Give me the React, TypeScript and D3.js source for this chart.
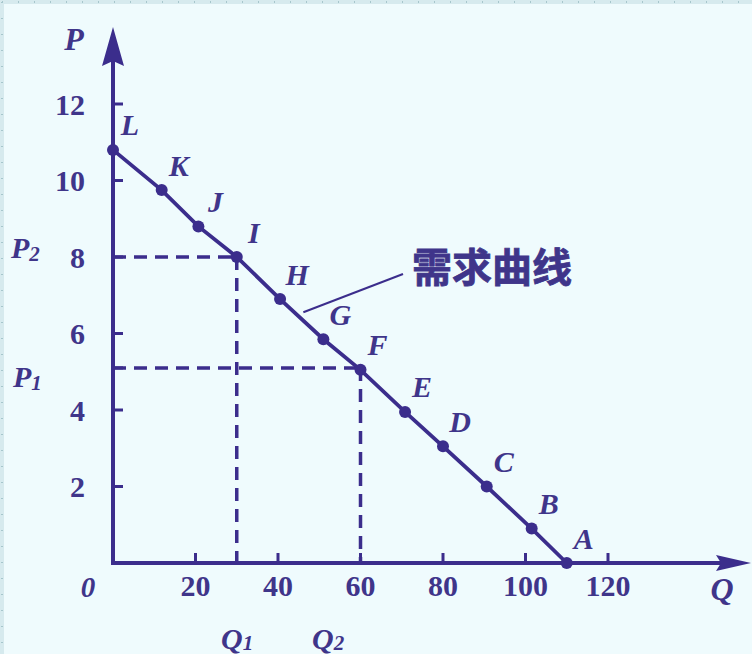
import React from 'react';
import * as d3 from 'd3';

// points on the demand curve
const pointNames = ['A', 'B', 'C', 'D', 'E', 'F', 'G', 'H', 'I', 'J', 'K', 'L'];
const pointQ = [110, 101.5, 90.6, 80, 70.8, 60, 51, 40.5, 30, 20.7, 11.8, 0];
const pointP = [0, 0.9, 2, 3.05, 3.95, 5.05, 5.85, 6.9, 8, 8.8, 9.75, 10.8];

const xTicks = [20, 40, 60, 80, 100, 120];
const yTicks = [2, 4, 6, 8, 10, 12];

// the two price/quantity guides
const P1 = 5.1;
const P2 = 8;
const Q1 = 30;
const Q2 = 60;

const W = 752;
const H = 654;
const ink = '#3b2d8c';
const txt = '#3f358a';
const serif = '"Liberation Serif", "Times New Roman", serif';

export default function App() {
  const x = d3.scaleLinear().domain([0, 120]).range([113, 608]);
  const y = d3.scaleLinear().domain([0, 12]).range([563, 104]);

  const pts = pointQ.map((q, i) => ({ q, p: pointP[i], name: pointNames[i] }));
  const line = d3.line<{ q: number; p: number }>().x(d => x(d.q)).y(d => y(d.p));

  const x0 = x(0);
  const y0 = y(0);
  const dots = d3.range(2, W, 16);
  const dotsV = d3.range(2, H, 16);

  return (
    <svg width={W} height={H} style={{ position: 'absolute', left: 0, top: 0 }}>
      {/* page background with the dotted top/left border */}
      <rect x={0} y={0} width={W} height={H} fill="#effbfd" />
      <rect x={0} y={0} width={W} height={4} fill="#d6eaee" />
      <rect x={0} y={0} width={4} height={H} fill="#d6eaee" />
      {dots.map(d => <rect key={'t' + d} x={d} y={1} width={1} height={2} fill="#a6c6cc" />)}
      {dotsV.map(d => <rect key={'l' + d} x={1} y={d} width={2} height={1} fill="#a6c6cc" />)}

      {/* dashed guides */}
      <g stroke={ink} strokeWidth={3.5} strokeDasharray="13,8" fill="none">
        <line x1={x0} y1={y(P2)} x2={x(Q1)} y2={y(P2)} />
        <line x1={x(Q1)} y1={y(P2)} x2={x(Q1)} y2={y0} />
        <line x1={x0} y1={y(P1)} x2={x(Q2)} y2={y(P1)} />
        <line x1={x(Q2)} y1={y(P1)} x2={x(Q2)} y2={y0} />
      </g>

      {/* axes */}
      <g stroke={ink} strokeWidth={4} fill="none">
        <line x1={x0} y1={y0} x2={x0} y2={50} />
        <line x1={x0 - 2} y1={y0} x2={730} y2={y0} />
        {yTicks.concat([P1]).map(t => (
          <line key={'yt' + t} x1={x0} y1={y(t)} x2={x0 + 10} y2={y(t)} strokeWidth={3} />
        ))}
        {xTicks.map(t => (
          <line key={'xt' + t} x1={x(t)} y1={y0} x2={x(t)} y2={y0 - 10} strokeWidth={3} />
        ))}
      </g>
      <path d={`M${x0},27 L${x0 - 11},66 L${x0},61 L${x0 + 11},66 Z`} fill={ink} />
      <path d={`M751,${y0} L716,${y0 - 8} L721,${y0} L716,${y0 + 8} Z`} fill={ink} />

      {/* demand curve */}
      <path d={line(pts) || ''} stroke={ink} strokeWidth={3.8} fill="none" />
      {pts.map(d => (
        <circle key={d.name} cx={x(d.q)} cy={y(d.p)} r={6} fill={ink} />
      ))}

      {/* tick labels */}
      <g fill={txt} fontFamily={serif} fontWeight="bold" fontSize={30}>
        {yTicks.map(t => (
          <text key={'yl' + t} x={85} y={y(t)} textAnchor="end" dominantBaseline="central">{t}</text>
        ))}
        {xTicks.map(t => (
          <text key={'xl' + t} x={x(t)} y={596} textAnchor="middle">{t}</text>
        ))}
      </g>

      {/* axis names and point letters */}
      <g fill={txt} fontFamily={serif} fontWeight="bold" fontStyle="italic">
        <text x={88} y={597} textAnchor="middle" fontSize={29}>0</text>
        <text x={74} y={50} textAnchor="middle" fontSize={32}>P</text>
        <text x={722} y={600} textAnchor="middle" fontSize={32}>Q</text>
        <text x={11} y={258} fontSize={30}>P<tspan fontSize={21} dy={3}>2</tspan></text>
        <text x={13} y={387} fontSize={30}>P<tspan fontSize={21} dy={3}>1</tspan></text>
        <text x={221} y={649} fontSize={30}>Q<tspan fontSize={21} dy={1}>1</tspan></text>
        <text x={312} y={649} fontSize={30}>Q<tspan fontSize={21} dy={1}>2</tspan></text>
        {pts.map(d => (
          <text key={'n' + d.name} x={x(d.q) + 17} y={y(d.p) - 25} textAnchor="middle"
            dominantBaseline="central" fontSize={30}>{d.name}</text>
        ))}
      </g>

      {/* curve annotation */}
      <line x1={x(pointQ[6]) - 20} y1={y(pointP[6]) - 27} x2={403} y2={274} stroke={ink} strokeWidth={2} />
      <text x={412} y={265} fill={txt} stroke={txt} strokeWidth={0.8} fontFamily='"Noto Sans CJK SC", sans-serif'
        fontWeight="bold" fontSize={40} dominantBaseline="central">需求曲线</text>
    </svg>
  );
}
